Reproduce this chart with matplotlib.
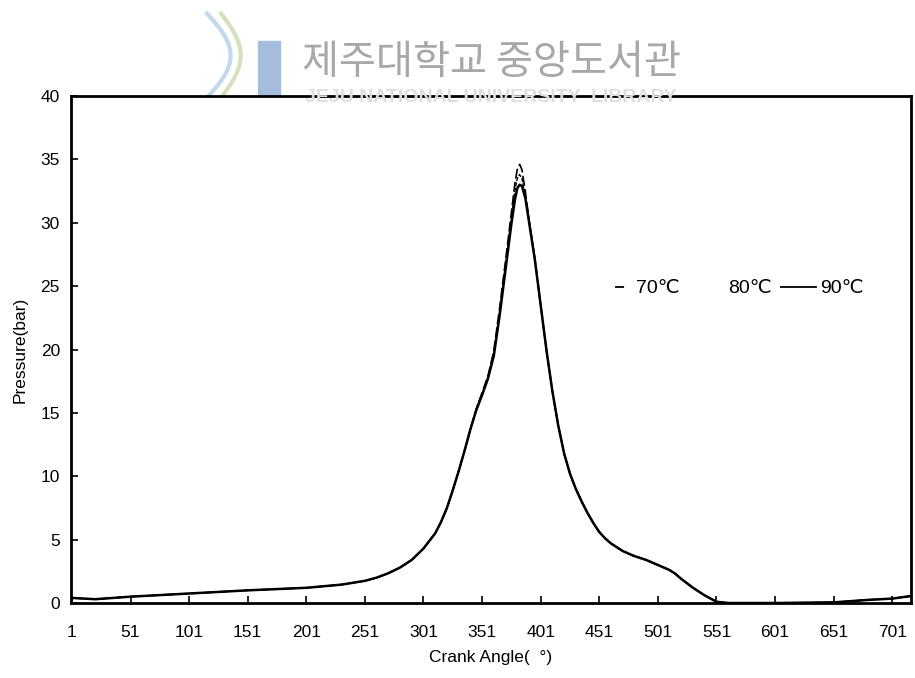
import matplotlib.pyplot as plt
from matplotlib.lines import Line2D
from matplotlib.patches import Rectangle
import numpy as np

plt.rcParams['font.family'] = ['Liberation Sans', 'DejaVu Sans']

# crank angle (deg) and cylinder pressure (bar)
angle = [1, 21, 51, 101, 151, 201, 231, 251, 261, 271, 281, 291, 301, 311, 316,
         321, 326, 331, 336, 341, 346, 351, 356, 361, 366, 371, 376, 379, 381,
         383, 385, 388, 391, 396, 401, 406, 411, 416, 421, 426, 431, 436, 441,
         446, 451, 456, 461, 471, 481, 491, 501, 511, 516, 521, 531, 541, 551,
         561, 601, 651, 681, 701, 717]
p70 = [0.4, 0.3, 0.5, 0.75, 1.0, 1.2, 1.45, 1.75, 2.0, 2.35, 2.8, 3.4, 4.3, 5.5, 6.4,
       7.5, 8.9, 10.4, 12.0, 13.7, 15.3, 16.6, 17.9, 19.9, 23.3, 27.0, 30.8, 33.1, 34.2,
       34.6, 34.2, 32.4, 30.3, 27.2, 23.5, 19.9, 16.7, 14.0, 11.8, 10.2, 9.0, 8.0, 7.1,
       6.3, 5.6, 5.1, 4.7, 4.1, 3.7, 3.4, 3.0, 2.6, 2.3, 1.9, 1.2, 0.6, 0.1,
       0.0, 0.0, 0.05, 0.25, 0.35, 0.55]
p80 = [0.4, 0.3, 0.5, 0.75, 1.0, 1.2, 1.45, 1.75, 2.0, 2.35, 2.8, 3.4, 4.3, 5.5, 6.4,
       7.5, 8.9, 10.4, 12.0, 13.7, 15.3, 16.5, 17.8, 19.7, 23.0, 26.7, 30.4, 32.5, 33.5,
       33.8, 33.5, 32.1, 30.2, 27.2, 23.5, 19.9, 16.7, 14.0, 11.8, 10.2, 9.0, 8.0, 7.1,
       6.3, 5.6, 5.1, 4.7, 4.1, 3.7, 3.4, 3.0, 2.6, 2.3, 1.9, 1.2, 0.6, 0.1,
       0.0, 0.0, 0.05, 0.25, 0.35, 0.55]
p90 = [0.4, 0.3, 0.5, 0.75, 1.0, 1.2, 1.45, 1.75, 2.0, 2.35, 2.8, 3.4, 4.3, 5.5, 6.4,
       7.5, 8.9, 10.4, 12.0, 13.7, 15.2, 16.4, 17.7, 19.5, 22.7, 26.3, 29.9, 31.8, 32.7,
       33.0, 32.9, 31.9, 30.1, 27.1, 23.5, 19.9, 16.7, 14.0, 11.8, 10.2, 9.0, 8.0, 7.1,
       6.3, 5.6, 5.1, 4.7, 4.1, 3.7, 3.4, 3.0, 2.6, 2.3, 1.9, 1.2, 0.6, 0.1,
       0.0, 0.0, 0.05, 0.25, 0.35, 0.55]
xticks = list(range(1, 702, 50))
yticks = [0, 5, 10, 15, 20, 25, 30, 35, 40]

fig = plt.figure(figsize=(9.15, 6.78), dpi=100)

# library watermark
fig.add_artist(Rectangle((0.282, 0.845), 0.024, 0.095, transform=fig.transFigure,
                         color='#a6bcdc', zorder=0))
t = np.linspace(0, 1, 40)
fig.add_artist(Line2D(0.222 + 0.03 * np.sin(t * 3.0), 0.85 + 0.13 * t,
                      transform=fig.transFigure, color='#c4d8ec', lw=3, zorder=0))
fig.add_artist(Line2D(0.238 + 0.025 * np.sin(t * 3.0), 0.85 + 0.13 * t,
                      transform=fig.transFigure, color='#d2e2bf', lw=3, zorder=0))
fig.text(0.537, 0.908, '제주대학교 중앙도서관', ha='center', va='center', fontsize=29,
         color='#a8a8a8', family=['Noto Sans CJK KR', 'DejaVu Sans'])
fig.text(0.537, 0.856, 'JEJU NATIONAL UNIVERSITY  LIBRARY', ha='center', va='center',
         fontsize=14, color='#dedede', fontweight='bold')

ax = fig.add_axes([0.0776, 0.1106, 0.918, 0.7478])
ax.plot(angle, p70, color='black', lw=1.2, ls=(0, (6, 2)))
ax.plot(angle, p80, color='black', lw=1.0, ls=(0, (3, 1)))
ax.plot(angle, p90, color='black', lw=1.8)

ax.set_xlim(0.2, 717)
ax.set_ylim(0, 40)
ax.set_xticks(xticks)
ax.set_yticks(yticks)
ax.tick_params(direction='in', length=5, width=1.2, labelsize=12.5)
ax.tick_params(axis='x', pad=16)
ax.tick_params(axis='y', pad=8)
for s in ax.spines.values():
    s.set_linewidth(2)

ax.set_xlabel('Crank Angle(  °)', fontsize=12.5, labelpad=7)
ax.set_ylabel('Pressure(bar)', fontsize=12.5, labelpad=9)

handles = [Line2D([], [], color='black', lw=1.3, ls=(35, (5, 40))),
           Line2D([], [], color='white', lw=0),
           Line2D([], [], color='black', lw=1.3)]
ax.legend(handles, ['70℃', '80℃', '90℃'], ncol=3, frameon=False,
          handlelength=1.8, handletextpad=0.2, columnspacing=0.5,
          loc='center', bbox_to_anchor=(0.785, 0.62),
          prop={'family': ['Liberation Sans', 'DejaVu Sans'], 'size': 14})

fig.savefig('out.png', dpi=100)
